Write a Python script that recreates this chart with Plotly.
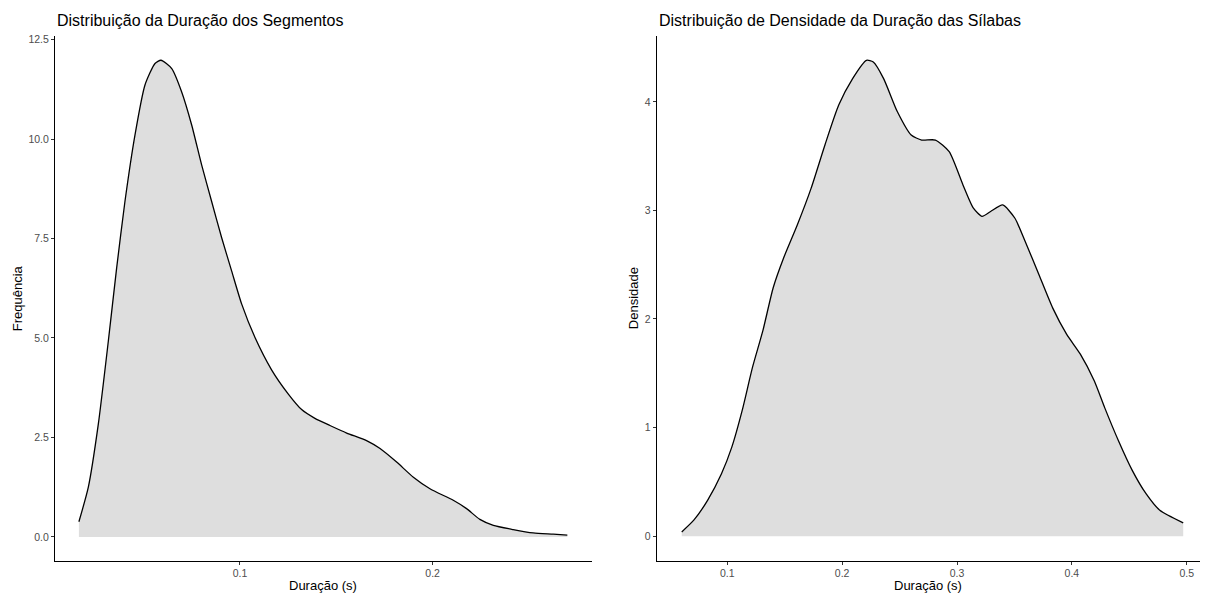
import plotly.graph_objects as go

# ---- Data: left panel (segment durations, density curve) ----
seg_x = [0.0164, 0.0213, 0.0265, 0.0317, 0.0360, 0.0403, 0.0455, 0.0507, 0.0559, 0.0590,
         0.0646, 0.0697, 0.0749, 0.0801, 0.0853, 0.0905, 0.0957, 0.1009, 0.1078, 0.1164,
         0.1251, 0.1320, 0.1389, 0.1467, 0.1554, 0.1657, 0.1727, 0.1813, 0.1900, 0.1986,
         0.2107, 0.2176, 0.2245, 0.2315, 0.2418, 0.2522, 0.2626, 0.2699]
seg_y = [0.38, 1.25, 2.84, 4.93, 6.76, 8.43, 10.10, 11.36, 11.90, 11.98,
         11.77, 11.19, 10.36, 9.35, 8.43, 7.52, 6.68, 5.85, 5.01, 4.20,
         3.59, 3.20, 2.98, 2.80, 2.61, 2.42, 2.22, 1.88, 1.50, 1.21,
         0.92, 0.71, 0.44, 0.29, 0.185, 0.10, 0.068, 0.043]

# ---- Data: right panel (syllable durations, density curve) ----
syl_x = [0.0603, 0.0708, 0.0828, 0.0949, 0.1039, 0.1129, 0.1219, 0.1309, 0.1400, 0.1490,
         0.1610, 0.1730, 0.1850, 0.1970, 0.2091, 0.2211, 0.2271, 0.2361, 0.2481, 0.2601,
         0.2692, 0.2812, 0.2932, 0.3052, 0.3143, 0.3218, 0.3293, 0.3398, 0.3503, 0.3593,
         0.3713, 0.3834, 0.3954, 0.4074, 0.4195, 0.4285, 0.4405, 0.4526, 0.4646, 0.4766,
         0.4970]
syl_y = [0.039, 0.147, 0.33, 0.575, 0.82, 1.156, 1.554, 1.89, 2.29, 2.562,
         2.868, 3.205, 3.603, 3.97, 4.214, 4.382, 4.367, 4.214, 3.908, 3.694,
         3.648, 3.648, 3.541, 3.235, 3.02, 2.945, 2.99, 3.05, 2.93, 2.716,
         2.41, 2.10, 1.86, 1.676, 1.431, 1.186, 0.881, 0.606, 0.391, 0.238,
         0.122]

left_xticks = [0.1, 0.2]
left_xlabels = ["0.1", "0.2"]
left_yticks = [0.0, 2.5, 5.0, 7.5, 10.0, 12.5]
left_ylabels = ["0.0", "2.5", "5.0", "7.5", "10.0", "12.5"]
right_xticks = [0.1, 0.2, 0.3, 0.4, 0.5]
right_xlabels = ["0.1", "0.2", "0.3", "0.4", "0.5"]
right_yticks = [0, 1, 2, 3, 4]
right_ylabels = ["0", "1", "2", "3", "4"]

left_title = "Distribuição da Duração dos Segmentos"
right_title = "Distribuição de Densidade da Duração das Sílabas"
x_title = "Duração (s)"
left_ytitle = "Frequência"
right_ytitle = "Densidade"

# ---- Layout geometry (pixels) ----
W, H = 1206, 593
FONT = "Liberation Sans, Arial, sans-serif"
panel_top, panel_bottom = 33.7, 560.7
L_left, L_right = 55, 592
R_left, R_right = 656.7, 1200

def px(v):
    return v / W

def py(v):
    return 1 - v / H

fig = go.Figure()

fill_col = "#dedede"
line = dict(color="black", width=1.3, shape="spline", smoothing=0.6)

fig.add_trace(go.Scatter(x=seg_x, y=seg_y, mode="lines", fill="tozeroy",
                         fillcolor=fill_col, line=line, xaxis="x", yaxis="y",
                         showlegend=False, hoverinfo="skip"))
fig.add_trace(go.Scatter(x=syl_x, y=syl_y, mode="lines", fill="tozeroy",
                         fillcolor=fill_col, line=line, xaxis="x2", yaxis="y2",
                         showlegend=False, hoverinfo="skip"))

axis_common = dict(showline=True, linecolor="black", linewidth=1.1, showgrid=False,
                   zeroline=False, ticks="outside", ticklen=3, tickwidth=1,
                   tickcolor="#333333",
                   tickfont=dict(family=FONT, size=10.5, color="#4d4d4d"))

fig.update_layout(
    width=W, height=H,
    margin=dict(l=0, r=0, t=0, b=0),
    paper_bgcolor="white", plot_bgcolor="white",
    font=dict(family=FONT, color="black"),
    xaxis=dict(domain=[px(L_left), px(L_right)], range=[0.004, 0.2827],
               tickvals=left_xticks, ticktext=left_xlabels, anchor="y", **axis_common),
    yaxis=dict(domain=[py(panel_bottom), py(panel_top)], range=[-0.601, 12.6],
               tickvals=left_yticks, ticktext=left_ylabels, anchor="x", **axis_common),
    xaxis2=dict(domain=[px(R_left), px(R_right)], range=[0.0385, 0.5116],
                tickvals=right_xticks, ticktext=right_xlabels, anchor="y2", **axis_common),
    yaxis2=dict(domain=[py(panel_bottom), py(panel_top)], range=[-0.227, 4.61],
                tickvals=right_yticks, ticktext=right_ylabels, anchor="x2", **axis_common),
)

ann = []
ann.append(dict(text=left_title, x=px(L_left), y=py(19), xref="paper", yref="paper",
                xanchor="left", yanchor="middle", showarrow=False,
                font=dict(family=FONT, size=16, color="black")))
ann.append(dict(text=right_title, x=px(R_left), y=py(19), xref="paper", yref="paper",
                xanchor="left", yanchor="middle", showarrow=False,
                font=dict(family=FONT, size=16, color="black")))
ann.append(dict(text=x_title, x=px((L_left + L_right) / 2), y=py(585.5), xref="paper",
                yref="paper", xanchor="center", yanchor="middle", showarrow=False,
                font=dict(family=FONT, size=13, color="black")))
ann.append(dict(text=x_title, x=px((R_left + R_right) / 2), y=py(585.5), xref="paper",
                yref="paper", xanchor="center", yanchor="middle", showarrow=False,
                font=dict(family=FONT, size=13, color="black")))
ann.append(dict(text=left_ytitle, x=px(17), y=py((panel_top + panel_bottom) / 2),
                xref="paper", yref="paper", xanchor="center", yanchor="middle",
                textangle=-90, showarrow=False,
                font=dict(family=FONT, size=13, color="black")))
ann.append(dict(text=right_ytitle, x=px(633), y=py((panel_top + panel_bottom) / 2),
                xref="paper", yref="paper", xanchor="center", yanchor="middle",
                textangle=-90, showarrow=False,
                font=dict(family=FONT, size=13, color="black")))
fig.update_layout(annotations=ann)

fig.write_html("out.html",
               config={"displayModeBar": False},
               post_script="document.body.style.margin='0px';document.body.style.overflow='hidden';")
